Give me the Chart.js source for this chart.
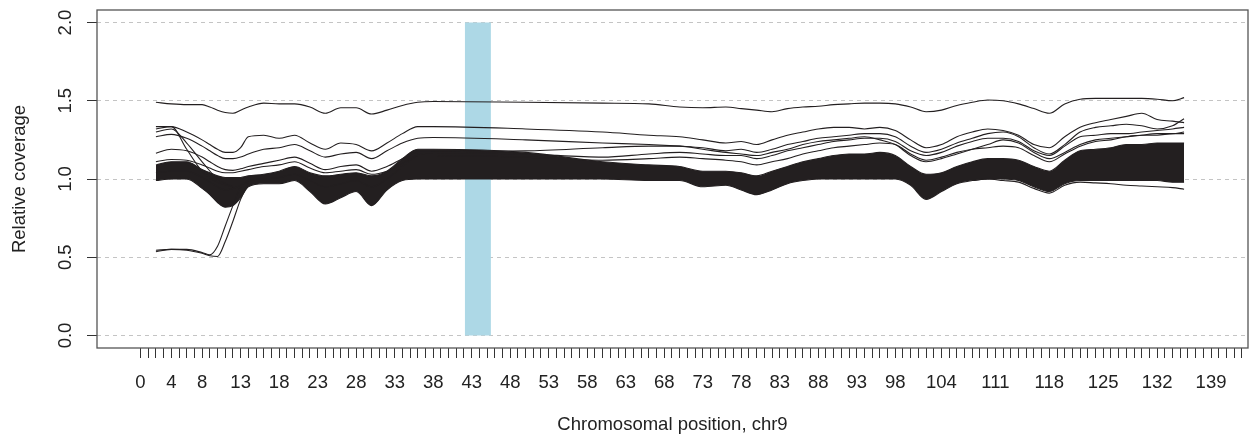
<!DOCTYPE html>
<html>
<head>
<meta charset="utf-8">
<script src="https://cdn.jsdelivr.net/npm/chart.js@4.4.1/dist/chart.umd.min.js"></script>
<style>
  body { margin: 0; background: #fff; }
  #grafica { display: block; }
</style>
</head>
<body>
<canvas id="grafica" width="1249" height="439"></canvas>
<script>
// posiciones (Mb) donde se leyeron los valores
var positionsMb = [2,4,6,8,9,10,11,12,13,14,
  16,18,20,22,24,26,28,30,32,34,
  36,38,50,60,66,70,73,76,78,80,
  82,84,86,88,90,92,94,96,98,100,
  102,104,106,108,110,112,114,116,118,120,
  122,124,126,128,130,132,134,135.5];

// banda densa de muestras (borde superior e inferior)
var bandHigh = [1.09,1.11,1.11,1.06,1.04,1.02,1.01,1.01,1.01,1.02,
  1.03,1.05,1.08,1.04,1.02,1.03,1.04,1.02,1.05,1.13,
  1.19,1.19,1.17,1.11,1.09,1.08,1.05,1.05,1.04,1.02,
  1.05,1.08,1.11,1.13,1.15,1.16,1.16,1.17,1.15,1.08,
  1.03,1.04,1.08,1.11,1.13,1.13,1.12,1.08,1.05,1.12,
  1.18,1.19,1.20,1.22,1.22,1.23,1.23,1.23];
var bandLow = [0.99,1.00,1.00,0.94,0.90,0.85,0.82,0.83,0.88,0.95,
  0.97,0.97,0.99,0.92,0.84,0.88,0.92,0.83,0.93,0.99,
  1.00,1.00,1.00,1.00,0.99,0.99,0.95,0.96,0.93,0.90,
  0.93,0.97,0.99,1.00,1.00,1.00,1.00,1.00,1.00,0.96,
  0.87,0.92,0.97,0.99,1.00,1.00,0.99,0.95,0.92,0.97,
  0.99,0.99,0.99,0.99,0.99,0.99,0.98,0.98];

// muestras que se salen de la banda
var sample1 = [1.49,1.48,1.475,1.475,1.46,1.44,1.425,1.42,1.44,1.46,
  1.485,1.48,1.48,1.46,1.42,1.455,1.455,1.415,1.44,1.47,
  1.49,1.495,1.49,1.485,1.48,1.46,1.455,1.46,1.45,1.44,
  1.43,1.45,1.46,1.465,1.475,1.48,1.485,1.485,1.48,1.46,
  1.43,1.44,1.47,1.49,1.505,1.50,1.48,1.45,1.42,1.48,
  1.51,1.515,1.515,1.515,1.515,1.51,1.50,1.52];
var sample2 = [1.335,1.335,1.30,1.25,1.22,1.19,1.17,1.17,1.20,1.27,
  1.28,1.26,1.28,1.23,1.19,1.23,1.22,1.18,1.23,1.29,
  1.335,1.335,1.32,1.30,1.28,1.27,1.25,1.23,1.24,1.22,
  1.25,1.28,1.30,1.32,1.33,1.33,1.32,1.33,1.31,1.25,
  1.20,1.22,1.27,1.30,1.32,1.31,1.28,1.22,1.20,1.27,
  1.33,1.36,1.38,1.40,1.42,1.38,1.37,1.36];
var sample3 = [1.27,1.285,1.26,1.21,1.18,1.15,1.13,1.13,1.14,1.16,
  1.19,1.20,1.22,1.18,1.14,1.16,1.17,1.13,1.18,1.23,
  1.26,1.265,1.25,1.23,1.22,1.21,1.20,1.18,1.19,1.17,
  1.19,1.22,1.24,1.26,1.27,1.28,1.29,1.29,1.27,1.21,
  1.17,1.19,1.23,1.26,1.29,1.30,1.27,1.20,1.16,1.22,
  1.30,1.33,1.34,1.35,1.34,1.32,1.34,1.385];
var sample4 = [1.165,1.19,1.18,1.14,1.11,1.08,1.06,1.055,1.065,1.08,
  1.10,1.12,1.14,1.10,1.06,1.08,1.09,1.05,1.08,1.13,
  1.17,1.17,1.16,1.14,1.16,1.17,1.16,1.15,1.15,1.13,
  1.15,1.18,1.20,1.22,1.24,1.25,1.26,1.26,1.24,1.18,
  1.15,1.17,1.21,1.24,1.26,1.26,1.24,1.18,1.15,1.21,
  1.27,1.28,1.29,1.29,1.30,1.31,1.32,1.33];
var sample5 = [1.11,1.125,1.12,1.09,1.07,1.05,1.04,1.04,1.05,1.06,
  1.08,1.09,1.11,1.07,1.04,1.05,1.06,1.03,1.05,1.10,
  1.15,1.15,1.14,1.12,1.13,1.14,1.13,1.12,1.11,1.09,
  1.11,1.13,1.16,1.18,1.20,1.21,1.22,1.23,1.22,1.16,
  1.12,1.14,1.17,1.19,1.20,1.21,1.20,1.15,1.11,1.16,
  1.21,1.24,1.25,1.27,1.28,1.29,1.29,1.30];
var sample6 = [1.04,1.05,1.05,1.01,0.98,0.95,0.93,0.94,0.96,0.99,
  1.00,1.01,1.03,0.99,0.95,0.97,0.99,0.95,1.00,1.08,
  1.15,1.17,1.18,1.20,1.21,1.21,1.19,1.17,1.16,1.15,
  1.17,1.19,1.22,1.24,1.25,1.26,1.27,1.25,1.22,1.15,
  1.11,1.13,1.16,1.19,1.22,1.25,1.23,1.17,1.13,1.17,
  1.22,1.25,1.26,1.27,1.28,1.28,1.29,1.29];

// tramos cortos: caidas al inicio, muestras bajas y cola inferior
var dropPos = [2,4,6,8,10,12];
var drop1 = [1.32,1.335,1.19,1.05,0.98,0.95];
var drop2 = [1.30,1.32,1.23,1.11,1.00,0.95];
var lowPos = [2,4,6,8,9,10,11,12,13,14];
var low1 = [0.535,0.55,0.55,0.53,0.515,0.57,0.70,0.83,0.95,0.98];
var low2 = [0.545,0.55,0.545,0.525,0.51,0.505,0.60,0.73,0.87,0.97];
var tailPos = [108,110,112,114,116,118,120,122,124,126,128,130,132,134,135.5];
var tail1 = [0.99,1.00,0.99,0.98,0.94,0.91,0.96,0.98,0.975,0.97,0.96,0.955,0.95,0.945,0.935];

// region resaltada (Mb) y su altura
var highlightMb = [42.1, 45.5];
var highlightTop = 2.0;

// ejes
var yTickValues = [0, 0.5, 1.0, 1.5, 2.0];
var xTickLabels = [0,4,8,13,18,23,28,33,38,43,48,53,58,63,68,73,78,83,88,93,98,104,111,118,125,132,139];
var xTickMarks = [];
for (var t = 0; t <= 143; t++) xTickMarks.push(t);

var negro = '#231f20';
var fuente = { family: 'Liberation Sans', size: 18.5 };

function serie(xs, ys) {
  return xs.map(function (x, i) { return { x: x, y: ys[i] }; });
}

function linea(nombre, xs, ys) {
  return {
    label: nombre,
    data: serie(xs, ys),
    borderColor: negro,
    borderWidth: 1.1,
    pointRadius: 0,
    fill: false,
    cubicInterpolationMode: 'monotone'
  };
}

var marco = {
  id: 'marco',
  afterDatasetsDraw: function (chart) {
    var ctx = chart.ctx, a = chart.chartArea;
    ctx.save();
    ctx.strokeStyle = '#555';
    ctx.lineWidth = 1.3;
    ctx.strokeRect(a.left, a.top, a.right - a.left, a.bottom - a.top);
    ctx.restore();
  }
};

var bandaAlta = linea('band high', positionsMb, bandHigh);
bandaAlta.fill = '+1';
bandaAlta.backgroundColor = negro;
var bandaBaja = linea('band low', positionsMb, bandLow);

var data = {
  datasets: [
    linea('s1', positionsMb, sample1),
    linea('s2', positionsMb, sample2),
    linea('s3', positionsMb, sample3),
    linea('s4', positionsMb, sample4),
    linea('s5', positionsMb, sample5),
    linea('s6', positionsMb, sample6),
    linea('d1', dropPos, drop1),
    linea('d2', dropPos, drop2),
    linea('l1', lowPos, low1),
    linea('l2', lowPos, low2),
    linea('t1', tailPos, tail1),
    bandaAlta,
    bandaBaja,
    {
      label: 'region',
      data: [{ x: highlightMb[0], y: highlightTop }, { x: highlightMb[1], y: highlightTop }],
      fill: { value: 0 },
      backgroundColor: '#add8e6',
      borderWidth: 0,
      pointRadius: 0,
      order: 5
    }
  ]
};

var config = {
  type: 'line',
  data: data,
  options: {
    responsive: false,
    animation: false,
    layout: { padding: { top: 10, right: 1, bottom: 0, left: 0 } },
    plugins: { legend: { display: false }, tooltip: { enabled: false } },
    scales: {
      x: {
        type: 'linear',
        min: -5.65,
        max: 143.8,
        afterBuildTicks: function (s) { s.ticks = xTickMarks.map(function (v) { return { value: v }; }); },
        afterFit: function (s) { s.height = 91; s.paddingLeft = 0; s.paddingRight = 0; },
        ticks: {
          autoSkip: false, maxRotation: 0, minRotation: 0, padding: 14,
          color: '#222', font: fuente,
          callback: function (v) { return xTickLabels.indexOf(v) >= 0 ? String(v) : ''; }
        },
        grid: { drawOnChartArea: false, drawTicks: true, tickLength: 10, tickColor: '#333', tickWidth: 1 },
        border: { display: false },
        title: { display: true, text: 'Chromosomal position, chr9', color: '#222', font: fuente, padding: { top: 0, bottom: 3 } }
      },
      y: {
        type: 'linear',
        min: -0.08,
        max: 2.08,
        afterBuildTicks: function (s) { s.ticks = yTickValues.map(function (v) { return { value: v }; }); },
        afterFit: function (s) { s.width = 97; s.paddingTop = 0; s.paddingBottom = 0; },
        ticks: {
          minRotation: 90, maxRotation: 90, crossAlign: 'center', padding: 8,
          color: '#222', font: fuente,
          callback: function (v) { return v.toFixed(1); }
        },
        grid: { color: '#c4c4c4', lineWidth: 1, tickColor: '#333', tickLength: 10, tickBorderDash: [] },
        border: { display: false, dash: [4, 4] },
        title: { display: true, text: 'Relative coverage', color: '#222', font: fuente, padding: { top: 9, bottom: 0 } }
      }
    }
  },
  plugins: [marco]
};

var grafica = new Chart(document.getElementById('grafica'), config);
</script>
</body>
</html>
